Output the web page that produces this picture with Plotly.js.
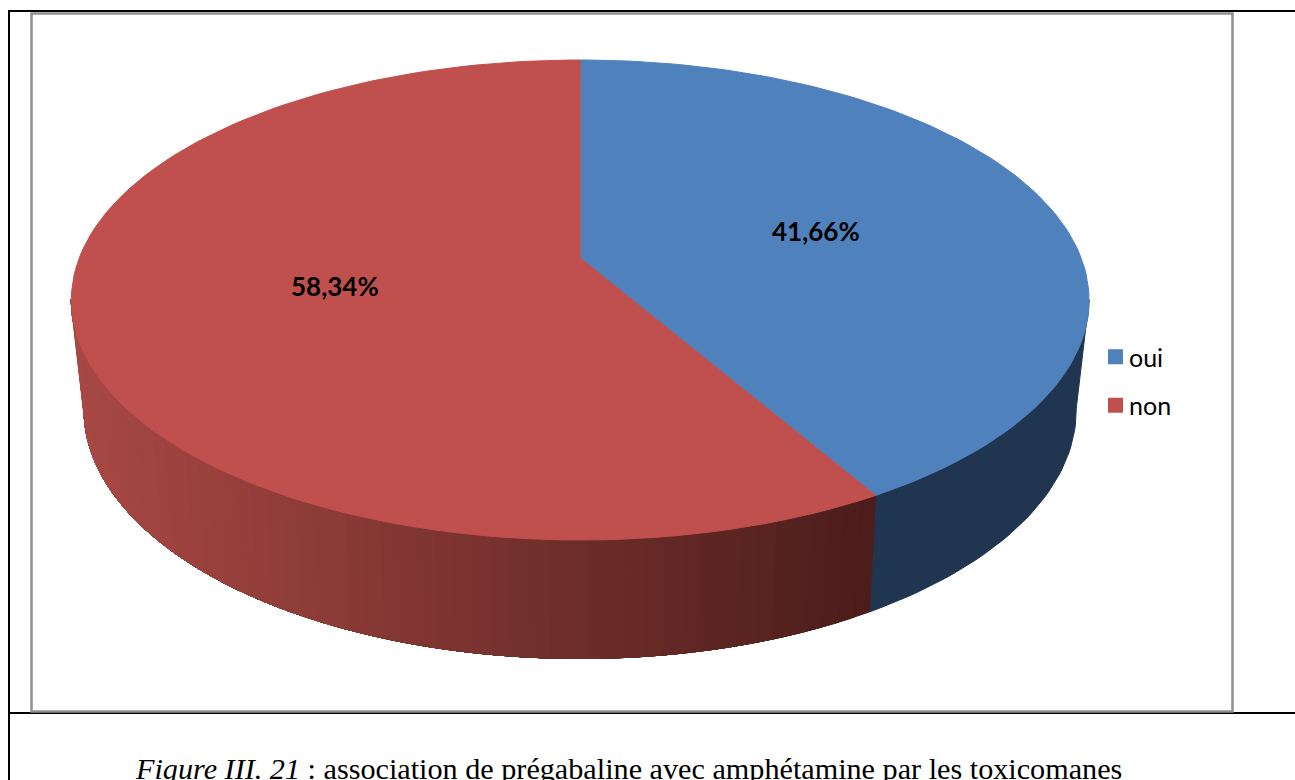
<!DOCTYPE html>
<html>
<head>
<meta charset="utf-8">
<script src="https://cdn.plot.ly/plotly-3.0.1.min.js"></script>
<style>html,body{margin:0;padding:0;background:#fff;overflow:hidden}#chart{width:1295px;height:780px}</style>
</head>
<body>
<div id="chart"></div>
<script>
const categories = ['oui', 'non'];
const percents = [41.66, 58.34];
const sliceColors = ['#4f81bd', '#c0504d'];
const blueWall = '#1f3550';
const caption = '<i>Figure III. 21</i> : association de prégabaline avec amphétamine par les toxicomanes';
const labelShiftX = [-1, 2];
const labelShiftY = [-2, 3];

// perspective of the tilted disc: top face and bottom face
const cx = 580.2;
const topFace = {k: 501, a: 187.5, b: 258, c: -0.175};
const botFace = {k: 488, a: 175, b: 365, c: -0.18};
function project(f, theta, r) {
  const u = r * Math.sin(theta), v = -r * Math.cos(theta), w = 1 + f.c * v;
  return [cx + f.k * u / w, (f.a * v + f.b) / w];
}
const rad = d => d * Math.PI / 180;
const total = percents.reduce((s, p) => s + p, 0);
const boundary = 360 * percents[0] / total;

function arc(f, from, to, n) {
  const pts = [];
  for (let i = 0; i <= n; i++) pts.push(project(f, rad(from + (to - from) * i / n), 1));
  return pts;
}
function poly(pts, color) {
  const closed = pts.concat([pts[0]]);
  return {
    type: 'scatter', mode: 'lines', x: closed.map(p => p[0]), y: closed.map(p => p[1]),
    fill: 'toself', fillcolor: color, line: {color: color, width: 1},
    showlegend: false, hoverinfo: 'skip'
  };
}

const traces = [];
// outer wall, blue part
const wallStart = 100, wallEnd = 260;
traces.push(poly(arc(topFace, wallStart, boundary, 40).concat(arc(botFace, boundary, wallStart, 40)), blueWall));
// outer wall, red part: darker to the right, each band painted over the rest
const bands = 60;
for (let i = 0; i < bands; i++) {
  const a0 = boundary + (wallEnd - boundary) * i / bands;
  const a1 = boundary + (wallEnd - boundary) * (i + 1) / bands;
  const xm = project(botFace, rad((a0 + a1) / 2), 1)[0];
  const t = Math.min(1, Math.max(0, (869 - xm) / (869 - 85)));
  const col = 'rgb(' + Math.round(75 + 93 * t) + ',' + Math.round(29 + 43 * t) + ',' + Math.round(27 + 41 * t) + ')';
  traces.push(poly(arc(topFace, a0, wallEnd, 40).concat(arc(botFace, wallEnd, a0, 40)), col));
}
// top faces
const apex = project(topFace, 0, 0);
let start = 0;
percents.forEach((p, i) => {
  const end = start + 360 * p / total;
  traces.push(poly([apex].concat(arc(topFace, start, end, 120)), sliceColors[i]));
  start = end;
});
// legend entries with square swatches
categories.forEach((c, i) => {
  traces.push({
    type: 'scatter', mode: 'markers', x: [null], y: [null], name: c, legendgroup: c,
    marker: {symbol: 'square', size: 15, color: sliceColors[i]}, showlegend: true, hoverinfo: 'skip'
  });
});

// data labels at mid-radius of each slice
const annotations = [];
start = 0;
percents.forEach((p, i) => {
  const end = start + 360 * p / total;
  const pos = project(topFace, rad((start + end) / 2), 0.5);
  annotations.push({
    x: pos[0], y: pos[1], xref: 'x', yref: 'y', showarrow: false,
    xshift: labelShiftX[i], yshift: labelShiftY[i],
    text: '<b>' + p.toFixed(2).replace('.', ',') + '%</b>',
    font: {family: 'Lato, sans-serif', size: 26, color: '#000'}
  });
  start = end;
});
annotations.push({
  x: 628, y: 769, xref: 'x', yref: 'y', showarrow: false, text: caption,
  font: {family: '"Liberation Serif", serif', size: 30.2, color: '#000'}
});

const gray = '#8f8f8f';
const shapes = [
  {type: 'line', xref: 'x', yref: 'y', x0: 8, y0: 11, x1: 1295, y1: 11, line: {color: '#000', width: 2}},
  {type: 'line', xref: 'x', yref: 'y', x0: 9, y0: 10, x1: 9, y1: 780, line: {color: '#000', width: 2}},
  {type: 'line', xref: 'x', yref: 'y', x0: 9, y0: 713, x1: 1295, y1: 713, line: {color: '#000', width: 2}},
  {type: 'rect', xref: 'x', yref: 'y', x0: 31.5, y0: 13.5, x1: 1232.5, y1: 711.5, line: {color: gray, width: 2.5}}
];

Plotly.newPlot('chart', traces, {
  width: 1295, height: 780,
  margin: {l: 0, r: 0, t: 0, b: 0},
  paper_bgcolor: '#fff', plot_bgcolor: '#fff',
  xaxis: {range: [0, 1295], visible: false, fixedrange: true},
  yaxis: {range: [780, 0], visible: false, fixedrange: true},
  showlegend: true,
  legend: {
    x: 1095.5 / 1295, y: 1 - 334 / 780, xanchor: 'left', yanchor: 'top',
    bgcolor: 'rgba(0,0,0,0)', tracegroupgap: 13, itemwidth: 30, traceorder: 'grouped',
    font: {family: 'Lato, sans-serif', size: 25, color: '#000'}
  },
  annotations: annotations,
  shapes: shapes
}, {displayModeBar: false, staticPlot: true}).then(() => {
  // the reference's legend text sits closer to its swatch
  document.querySelectorAll('.legendtext').forEach(t => t.setAttribute('x', '33.5'));
});
</script>
</body>
</html>
